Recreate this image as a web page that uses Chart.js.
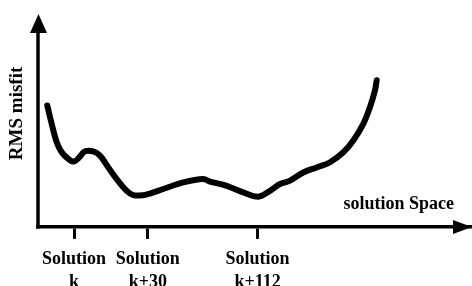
<!DOCTYPE html>
<html>
<head>
<meta charset="utf-8">
<script src="https://cdn.jsdelivr.net/npm/chart.js@4/dist/chart.umd.min.js"></script>
<style>
  html, body { margin: 0; padding: 0; background: #fff; overflow: hidden; }
  #wrap { position: relative; width: 472px; height: 303px; }
</style>
</head>
<body>
<div id="wrap"><canvas id="c"></canvas></div>
<script>
// Position along the solution space (arbitrary units, 0..100)
const solutionX = [2.14, 3.16, 4.31, 5.46, 6.98, 8.29, 9.52, 10.83, 12.74, 14.29, 16.20, 18.13, 20.44, 21.96, 24.26, 25.81, 28.87, 33.48, 38.09, 39.63, 43.48, 47.30, 50.76, 53.46, 55.76, 58.06, 61.13, 64.22, 67.28, 70.35, 72.65, 74.95, 76.50, 77.65, 78.04];
// RMS misfit (arbitrary units, 0..100)
const rmsMisfit = [53.5, 45.4, 37.3, 32.9, 30.0, 28.8, 30.7, 33.3, 33.3, 31.4, 26.2, 21.1, 15.9, 14.0, 14.0, 14.7, 16.7, 19.6, 21.1, 20.0, 18.1, 15.2, 13.3, 15.9, 18.9, 20.4, 24.0, 26.2, 28.5, 32.9, 38.1, 45.4, 52.8, 60.2, 64.6];
// Marked solutions on the x axis
const tickPositions = [8.3, 25.3, 50.6];
const tickLabels = [["Solution", "k"], ["Solution", "k+30"], ["Solution", "k+112"]];
const xAxisLabel = "solution Space";
const yAxisLabel = "RMS misfit";

const FONT = "'Liberation Serif', 'Times New Roman', serif";

const arrowPlugin = {
  id: 'arrows',
  afterDraw(chart) {
    const ctx = chart.ctx;
    const a = chart.chartArea;
    ctx.save();
    ctx.fillStyle = '#000';
    ctx.strokeStyle = '#000';
    // y axis line
    ctx.lineWidth = 3.5;
    ctx.beginPath();
    ctx.moveTo(a.left, a.bottom + 1.75);
    ctx.lineTo(a.left, a.top + 30);
    ctx.stroke();
    // y arrowhead
    ctx.beginPath();
    ctx.moveTo(a.left + 0.5, a.top + 14);
    ctx.lineTo(a.left - 8, a.top + 33);
    ctx.lineTo(a.left + 9, a.top + 33);
    ctx.closePath();
    ctx.fill();
    // x arrowhead
    ctx.beginPath();
    ctx.moveTo(a.right, a.bottom);
    ctx.lineTo(a.right - 19, a.bottom - 7);
    ctx.lineTo(a.right - 19, a.bottom + 7);
    ctx.closePath();
    ctx.fill();
    // x axis caption above the axis
    ctx.font = 'bold 18px ' + FONT;
    ctx.textAlign = 'right';
    ctx.textBaseline = 'alphabetic';
    ctx.fillText(xAxisLabel, a.right - 18, a.bottom - 18);
    ctx.restore();
  }
};

new Chart(document.getElementById('c'), {
  type: 'line',
  data: {
    datasets: [{
      data: solutionX.map((x, i) => ({ x: x, y: rmsMisfit[i] })),
      borderColor: '#000',
      borderWidth: 6,
      pointRadius: 0,
      tension: 0.35,
      borderCapStyle: 'round',
      borderJoinStyle: 'round',
      fill: false
    }]
  },
  options: {
    responsive: true,
    maintainAspectRatio: false,
    animation: false,
    layout: { padding: { left: 0, right: 0, top: 0, bottom: 0 } },
    plugins: { legend: { display: false }, tooltip: { enabled: false } },
    scales: {
      x: {
        type: 'linear',
        min: 0,
        max: 100,
        afterBuildTicks(scale) {
          scale.ticks = tickPositions.map(v => ({ value: v }));
        },
        ticks: {
          autoSkip: false,
          maxRotation: 0,
          minRotation: 0,
          padding: 9,
          color: '#000',
          font: { family: FONT, size: 18, weight: 'bold', lineHeight: 1.28 },
          callback(value, index) { return tickLabels[index]; }
        },
        grid: {
          display: true,
          drawOnChartArea: false,
          drawTicks: true,
          tickLength: 12,
          tickWidth: 3,
          tickColor: '#000',
          color: '#000'
        },
        border: { display: true, color: '#000', width: 3.5 }
      },
      y: {
        type: 'linear',
        min: 0,
        max: 100,
        ticks: { display: false },
        grid: { display: false, drawTicks: false },
        border: { display: false },
        title: {
          display: true,
          text: yAxisLabel,
          color: '#000',
          font: { family: FONT, size: 19, weight: 'bold' },
          padding: { top: 6, bottom: 4 }
        },
        afterFit(scale) { scale.width = 38; }
      }
    }
  },
  plugins: [arrowPlugin]
});
</script>
</body>
</html>
